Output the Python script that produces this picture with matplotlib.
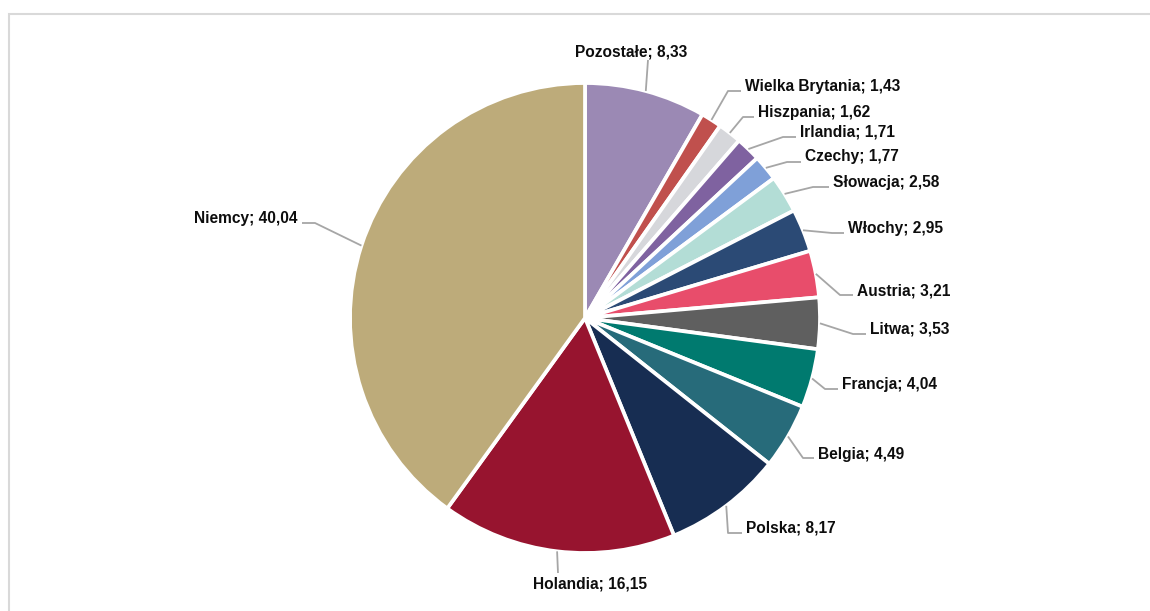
import numpy as np
import matplotlib
matplotlib.use("Agg")
import matplotlib.pyplot as plt
from matplotlib.patches import Rectangle

# ---- data ----
categories = ["Pozostałe", "Wielka Brytania", "Hiszpania", "Irlandia", "Czechy",
              "Słowacja", "Włochy", "Austria", "Litwa", "Francja", "Belgia",
              "Polska", "Holandia", "Niemcy"]
values = [8.33, 1.43, 1.62, 1.71, 1.77, 2.58, 2.95, 3.21, 3.53, 4.04, 4.49,
          8.17, 16.15, 40.04]
value_labels = ["8,33", "1,43", "1,62", "1,71", "1,77", "2,58", "2,95", "3,21",
                "3,53", "4,04", "4,49", "8,17", "16,15", "40,04"]

# ---- styles / layout ----
colors = ["#9B89B4", "#C0504D", "#D6D7DB", "#7F62A0", "#7FA0D8", "#B3DDD6",
          "#2B4A75", "#E84D6B", "#5F5F5F", "#007A6F", "#276B7A", "#172D52",
          "#97142F", "#BDAB7A"]

W, H = 1150, 611
CX, CY, R = 585, 318, 235

def Y(y):
    return H - y

# elbow point, text anchor point (pixel coords), ha
label_layout = [
    ((648, 60), (631, 52), "center"),
    ((728, 91), (745, 86), "left"),
    ((743, 117), (758, 112), "left"),
    ((783, 137), (800, 132), "left"),
    ((787, 162), (805, 157), "left"),
    ((813, 187), (833, 183), "left"),
    ((832, 233), (848, 229), "left"),
    ((840, 295), (857, 291), "left"),
    ((853, 334), (870, 329), "left"),
    ((825, 389), (842, 384), "left"),
    ((803, 458), (818, 455), "left"),
    ((728, 533), (746, 528), "left"),
    ((558, 573), (590, 584), "center"),
    ((315, 223), (298, 219), "right"),
]

fig = plt.figure(figsize=(W / 100, H / 100), dpi=100)
ax = fig.add_axes([0, 0, 1, 1])
ax.set_xlim(0, W)
ax.set_ylim(0, H)
ax.axis("off")

# outer frame
ax.add_patch(Rectangle((9, -10), W + 20, Y(14) + 10, fill=False,
                       edgecolor="#D9D9D9", linewidth=1.5))

wedges, _ = ax.pie(values, colors=colors, startangle=90, counterclock=False,
                   radius=R, center=(CX, Y(CY)),
                   wedgeprops=dict(edgecolor="white", linewidth=2.7))
ax.set_xlim(0, W)
ax.set_ylim(0, H)
ax.set_aspect("equal")

for w, cat, vl, (elbow, tpos, ha) in zip(wedges, categories, value_labels, label_layout):
    mid = np.deg2rad((w.theta1 + w.theta2) / 2)
    sx = CX + R * np.cos(mid)
    sy = Y(CY) + R * np.sin(mid)
    ex, ey = elbow[0], Y(elbow[1])
    if ha == "left":
        pts_x = [sx, ex, tpos[0] - 4]
        pts_y = [sy, ey, ey]
    elif ha == "right":
        pts_x = [sx, ex, tpos[0] + 4]
        pts_y = [sy, ey, ey]
    else:
        pts_x = [sx, ex]
        pts_y = [sy, ey]
    ax.plot(pts_x, pts_y, color="#A6A6A6", linewidth=1.3, solid_capstyle="butt")
    ax.text(tpos[0], Y(tpos[1]), f"{cat}; {vl}", ha=ha, va="center",
            fontsize=11.2, fontweight="bold", family=["Liberation Sans", "DejaVu Sans"],
            color="#0D0D0D")

fig.savefig("out.png", dpi=100)
